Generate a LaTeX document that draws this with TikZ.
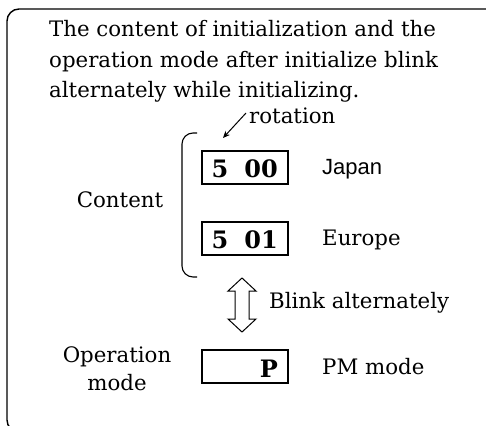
\documentclass[tikz,border=0pt]{standalone}
\usepackage{fontspec}
\setmainfont{DejaVu Serif}
\setsansfont{Liberation Sans}
\usetikzlibrary{arrows.meta}
\begin{document}
\begin{tikzpicture}[x=1pt,y=-1pt,
  txt/.style={font=\fontsize{21.3}{25}\selectfont, inner sep=0pt},
  sanstxt/.style={font=\sffamily\fontsize{22}{26}\selectfont, inner sep=0pt},
  digbox/.style={draw, line width=1.1pt, minimum width=86pt, minimum height=33pt, inner sep=0pt},
  digits/.style={font=\bfseries\fontsize{24}{26}\selectfont, inner sep=0pt}]
\useasboundingbox (0,0) rectangle (486,425);
\clip (0,0) rectangle (486,425);
\fill[white] (0,0) rectangle (486,425);
% frame
\draw[line width=1.4pt, rounded corners=12] (7,9) rectangle (520,432);
% heading
\node[txt, anchor=base west] (h1) at (49,37) {The content of initialization and the};
\node[txt, anchor=base west] (h2) at (49,68) {operation mode after initialize blink};
\node[txt, anchor=base west] (h3) at (49,97) {alternately while initializing.};
% rotation
\node[txt, anchor=base west] (rot) at (249,123) {rotation};
\coordinate (rtail) at (246,113);
\coordinate (rtip) at (223,138);
\draw[line width=1pt, -{Stealth[length=7pt,width=6pt]}] (rtail) -- (rtip);
% bracket
\draw[line width=1.1pt, rounded corners=11] (197,133) -- (182,133) -- (182,277) -- (197,277);
% boxes
\node[digbox] (b1) at (245,167.5) {};
\node[digits, anchor=base] (d1a) at (220,177) {5};
\node[digits, anchor=base] (d1b) at (261,177) {00};
\node[digbox] (b2) at (245,238.5) {};
\node[digits, anchor=base] (d2a) at (220,248) {5};
\node[digits, anchor=base] (d2b) at (261,248) {01};
\node[sanstxt, anchor=base west] (jp) at (322,174) {Japan};
\node[txt, anchor=base west] (eu) at (322,245) {Europe};
\node[txt, anchor=base] (cont) at (120,207) {Content};
% double arrow
\draw[line width=1pt, line join=miter]
  (242,278) -- (256,291) -- (249,291) -- (249,319) -- (256,319) -- (242,332)
  -- (228,319) -- (235,319) -- (235,291) -- (228,291) -- cycle;
\coordinate (dbl) at (242,305);
\node[txt, anchor=base west] (blink) at (269,308) {Blink alternately};
% P box
\node[digbox] (b3) at (245,366.5) {};
\node[digits, anchor=base east] (p) at (278,377) {P};
\node[txt, anchor=base west] (pm) at (322,374) {PM mode};
\node[txt, anchor=base] (op1) at (117,362) {Operation};
\node[txt, anchor=base] (op2) at (117,390) {mode};
\end{tikzpicture}
\end{document}
